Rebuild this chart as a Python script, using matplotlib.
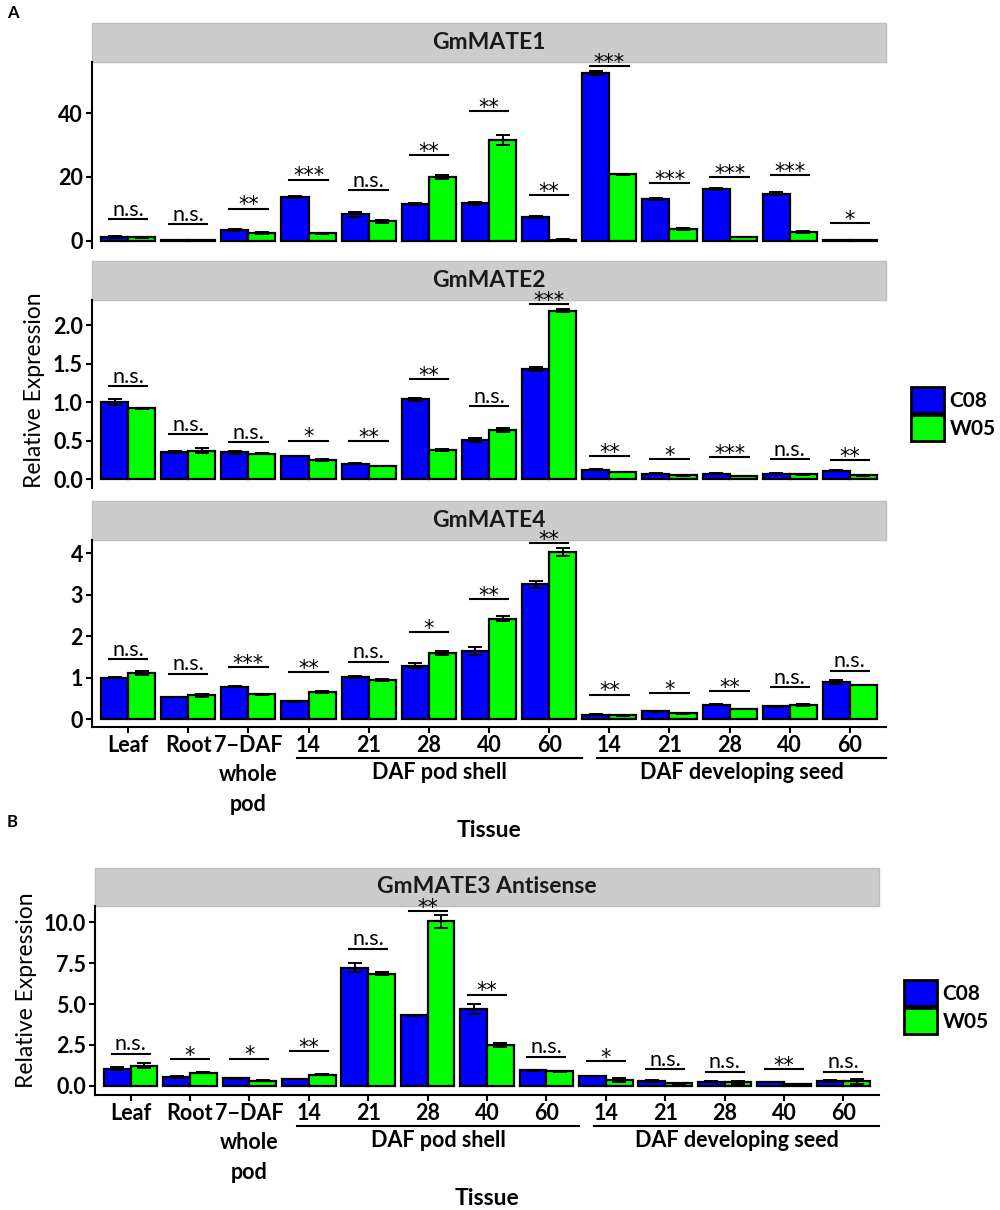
import numpy as np
import matplotlib
matplotlib.use('Agg')
import matplotlib.pyplot as plt
from matplotlib.patches import Rectangle, Patch
from matplotlib.transforms import ScaledTranslation

plt.rcParams['font.family'] = ['Lato', 'DejaVu Sans']

# tissues (x categories)
tissues = ['Leaf', 'Root', '7\u2212DAF\nwhole\npod', '14', '21', '28', '40', '60',
           '14', '21', '28', '40', '60']

# GmMATE1
mate1_c08 = [1.1, 0.2, 3.4, 13.7, 8.3, 11.5, 11.8, 7.4, 52.7, 13.1, 16.2, 14.8, 0.3]
mate1_w05 = [1.0, 0.15, 2.4, 2.3, 6.1, 20.0, 31.5, 0.3, 20.8, 3.8, 1.2, 2.7, 0.1]
mate1_c08_err = [0.3, 0.05, 0.3, 0.4, 0.8, 0.2, 0.5, 0.3, 0.7, 0.4, 0.3, 0.5, 0.05]
mate1_w05_err = [0.2, 0.05, 0.2, 0.2, 0.4, 0.6, 1.6, 0.1, 0.2, 0.3, 0.1, 0.2, 0.05]
mate1_sig = ['n.s.', 'n.s.', '**', '***', 'n.s.', '**', '**', '**', '***', '***', '***', '***', '*']
mate1_sig_y = [6.8, 5.1, 10.1, 19.2, 15.9, 26.8, 40.6, 14.2, 54.9, 18.1, 20.0, 20.6, 5.6]

# GmMATE2
mate2_c08 = [1.0, 0.35, 0.35, 0.30, 0.20, 1.04, 0.51, 1.43, 0.12, 0.07, 0.07, 0.07, 0.11]
mate2_w05 = [0.92, 0.37, 0.33, 0.25, 0.17, 0.38, 0.64, 2.19, 0.09, 0.05, 0.04, 0.06, 0.05]
mate2_c08_err = [0.04, 0.01, 0.02, 0.005, 0.005, 0.02, 0.03, 0.03, 0.005, 0.005, 0.005, 0.005, 0.005]
mate2_w05_err = [0.01, 0.03, 0.01, 0.01, 0.005, 0.01, 0.03, 0.02, 0.005, 0.005, 0.005, 0.005, 0.005]
mate2_sig = ['n.s.', 'n.s.', 'n.s.', '*', '**', '**', 'n.s.', '***', '**', '*', '***', 'n.s.', '**']
mate2_sig_y = [1.21, 0.58, 0.48, 0.50, 0.49, 1.30, 0.95, 2.28, 0.30, 0.26, 0.29, 0.26, 0.25]

# GmMATE4
mate4_c08 = [1.0, 0.53, 0.78, 0.43, 1.02, 1.29, 1.64, 3.25, 0.10, 0.19, 0.35, 0.31, 0.89]
mate4_w05 = [1.11, 0.57, 0.60, 0.65, 0.94, 1.59, 2.42, 4.03, 0.09, 0.14, 0.24, 0.34, 0.82]
mate4_c08_err = [0.01, 0.01, 0.01, 0.01, 0.03, 0.07, 0.09, 0.09, 0.01, 0.01, 0.01, 0.01, 0.04]
mate4_w05_err = [0.04, 0.03, 0.01, 0.02, 0.02, 0.04, 0.06, 0.10, 0.01, 0.01, 0.01, 0.02, 0.01]
mate4_sig = ['n.s.', 'n.s.', '***', '**', 'n.s.', '*', '**', '**', '**', '*', '**', 'n.s.', 'n.s.']
mate4_sig_y = [1.44, 1.09, 1.26, 1.14, 1.38, 2.10, 2.89, 4.24, 0.59, 0.63, 0.68, 0.77, 1.16]

# GmMATE3 Antisense
mate3_c08 = [1.04, 0.55, 0.45, 0.41, 7.23, 4.31, 4.70, 0.94, 0.59, 0.30, 0.25, 0.22, 0.30]
mate3_w05 = [1.22, 0.78, 0.31, 0.66, 6.86, 10.07, 2.49, 0.88, 0.35, 0.15, 0.20, 0.08, 0.27]
mate3_c08_err = [0.1, 0.05, 0.03, 0.03, 0.3, 0.03, 0.3, 0.03, 0.02, 0.05, 0.03, 0.02, 0.05]
mate3_w05_err = [0.15, 0.03, 0.05, 0.03, 0.1, 0.4, 0.13, 0.03, 0.1, 0.03, 0.08, 0.02, 0.15]
mate3_sig = ['n.s.', '*', '*', '**', 'n.s.', '**', '**', 'n.s.', '*', 'n.s.', 'n.s.', '**', 'n.s.']
mate3_sig_y = [1.96, 1.62, 1.66, 2.10, 8.37, 10.7, 5.57, 1.76, 1.51, 1.0, 0.84, 1.0, 0.84]

blue = '#0000FF'
green = '#00FF00'
W, H = 1000, 1210

fig = plt.figure(figsize=(10, 12.1), dpi=100)


def px_axes(x0, x1, y0, y1):
    return fig.add_axes([x0 / W, 1 - y1 / H, (x1 - x0) / W, (y1 - y0) / H])


def panel(ax, c08, w05, c08_err, w05_err, sig, sig_y, title, ylim, yticks, ylabels,
          strip_px, show_x):
    x = np.arange(1, len(c08) + 1)
    ax.bar(x - 0.225, c08, 0.45, color=blue, edgecolor='black', linewidth=1.6, zorder=2)
    ax.bar(x + 0.225, w05, 0.45, color=green, edgecolor='black', linewidth=1.6, zorder=2)
    ax.errorbar(x - 0.225, c08, yerr=c08_err, fmt='none', ecolor='black',
                elinewidth=1.4, capsize=5, capthick=1.4, zorder=3)
    ax.errorbar(x + 0.225, w05, yerr=w05_err, fmt='none', ecolor='black',
                elinewidth=1.4, capsize=5, capthick=1.4, zorder=3)
    for xi, s, yy in zip(x, sig, sig_y):
        ax.plot([xi - 0.32, xi + 0.32], [yy, yy], color='black', lw=1.5,
                clip_on=False, zorder=4)
        if s == 'n.s.':
            ax.annotate(s, (xi, yy), xytext=(0, 2.5), textcoords='offset points',
                        ha='center', va='baseline', fontsize=15.5, zorder=5,
                        annotation_clip=False)
        else:
            ax.annotate(s, (xi, yy), xytext=(0, -2), textcoords='offset points',
                        ha='center', va='baseline', fontsize=15, zorder=5,
                        family='DejaVu Sans', annotation_clip=False)
    ax.set_xlim(0.4, 13.6)
    ax.set_ylim(*ylim)
    ax.set_yticks(yticks, ylabels)
    for sp in ['top', 'right']:
        ax.spines[sp].set_visible(False)
    ax.spines['left'].set_linewidth(1.5)
    ax.spines['bottom'].set_linewidth(1.5)
    ax.tick_params(axis='y', length=4.5, width=1.5, labelsize=15.5, pad=2)
    for t in ax.get_yticklabels():
        t.set_fontweight('bold')
    # facet strip
    h_px = ax.get_position().height * H
    sh = strip_px / h_px
    ax.add_patch(Rectangle((0, 1), 1, sh, transform=ax.transAxes, clip_on=False,
                           facecolor='#CCCCCC', edgecolor='#BDBDBD', lw=1, zorder=0.5))
    ax.text(0.5, 1 + sh / 2, title, transform=ax.transAxes, ha='center', va='center',
            fontsize=16.5, fontweight='bold', color='#1a1a1a')
    if show_x:
        ax.set_xticks(x, tissues)
        ax.tick_params(axis='x', length=4.5, width=1.5, labelsize=15.5, pad=1)
        for t in ax.get_xticklabels():
            t.set_fontweight('bold')
            t.set_linespacing(1.5)
        trans = ax.get_xaxis_transform()
        line_off = trans + ScaledTranslation(0, -30.5 / 100, fig.dpi_scale_trans)
        text_off = trans + ScaledTranslation(0, -45.5 / 100, fig.dpi_scale_trans)
        for (a, b), lab in zip([(3.8, 8.55), (8.8, 13.6)],
                               ['DAF pod shell', 'DAF developing seed']):
            ax.plot([a, b], [0, 0], color='black', lw=1.5, transform=line_off,
                    clip_on=False)
            ax.text((a + b) / 2, 0, lab, transform=text_off, ha='center', va='center',
                    fontsize=15.5, fontweight='bold')
        t_off = ax.transAxes + ScaledTranslation(0, -103.5 / 100, fig.dpi_scale_trans)
        ax.text(0.5, 0, 'Tissue', transform=t_off, ha='center', va='center',
                fontsize=16.5, fontweight='bold')
    else:
        ax.spines['bottom'].set_visible(False)
        ax.set_xticks([])


ax1 = px_axes(92, 886, 61.7, 248)
panel(ax1, mate1_c08, mate1_w05, mate1_c08_err, mate1_w05_err, mate1_sig, mate1_sig_y,
      'GmMATE1', (-2.3, 56.2), [0, 20, 40], ['0', '20', '40'], 39, False)

ax2 = px_axes(92, 886, 300, 487.7)
panel(ax2, mate2_c08, mate2_w05, mate2_c08_err, mate2_w05_err, mate2_sig, mate2_sig_y,
      'GmMATE2', (-0.113, 2.33), [0, 0.5, 1, 1.5, 2], ['0.0', '0.5', '1.0', '1.5', '2.0'],
      39, False)

ax3 = px_axes(92, 886, 540, 727.3)
panel(ax3, mate4_c08, mate4_w05, mate4_c08_err, mate4_w05_err, mate4_sig, mate4_sig_y,
      'GmMATE4', (-0.2, 4.32), [0, 1, 2, 3, 4], ['0', '1', '2', '3', '4'], 39, True)

axB = px_axes(95, 879, 906, 1095)
panel(axB, mate3_c08, mate3_w05, mate3_c08_err, mate3_w05_err, mate3_sig, mate3_sig_y,
      'GmMATE3 Antisense', (-0.57, 11.0), [0, 2.5, 5, 7.5, 10],
      ['0.0', '2.5', '5.0', '7.5', '10.0'], 38.5, True)

# panel letters, y titles
fig.text(13 / W, 1 - 13 / H, 'A', ha='center', va='center', fontsize=12, fontweight='bold')
fig.text(12 / W, 1 - 822 / H, 'B', ha='center', va='center', fontsize=12, fontweight='bold')
fig.text(35 / W, 1 - 390 / H, 'Relative Expression', rotation=90, ha='center',
         va='center', fontsize=16.5)
fig.text(27 / W, 1 - 990 / H, 'Relative Expression', rotation=90, ha='center',
         va='center', fontsize=16.5)

handles = [Patch(facecolor=blue, edgecolor='black', lw=2, label='C08'),
           Patch(facecolor=green, edgecolor='black', lw=2, label='W05')]
for lx, ly in [(911, 414), (904, 1007)]:
    leg = fig.legend(handles=handles, loc='center left', bbox_to_anchor=(lx / W, 1 - ly / H),
                     frameon=False, fontsize=15, handlelength=1.6, handleheight=1.6,
                     labelspacing=0.05, handletextpad=0.25, borderpad=0, borderaxespad=0)
    for t in leg.get_texts():
        t.set_fontweight('bold')

fig.savefig('out.png', dpi=100)
